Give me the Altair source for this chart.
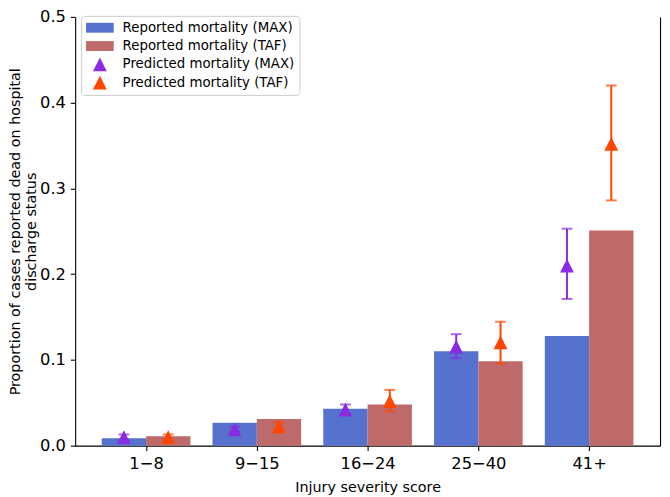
import json
import altair as alt
import pandas as pd

categories = ["1−8", "9−15", "16−24", "25−40", "41+"]
series_names = [
    "Reported mortality (MAX)",
    "Reported mortality (TAF)",
    "Predicted mortality (MAX)",
    "Predicted mortality (TAF)",
]
reported_max = [0.0087, 0.0267, 0.043, 0.110, 0.128]
reported_taf = [0.011, 0.031, 0.048, 0.0985, 0.251]
predicted_max = [0.010, 0.019, 0.042, 0.1155, 0.210]
predicted_max_lo = [0.007, 0.016, 0.037, 0.102, 0.171]
predicted_max_hi = [0.013, 0.022, 0.048, 0.130, 0.253]
predicted_taf = [0.010, 0.0225, 0.052, 0.1205, 0.352]
predicted_taf_lo = [0.007, 0.018, 0.040, 0.0957, 0.286]
predicted_taf_hi = [0.013, 0.027, 0.065, 0.1445, 0.420]

colors = ["#5573CE", "#BE6A6A", "#8A2BE2", "#FF4500"]
RECT = "M-2,-0.714L2,-0.714L2,0.714L-2,0.714Z"
TRI = "M0,-1L-1,1L1,1Z"
FONT = "DejaVu Sans"

bar_rows = []
pt_rows = []
for i, c in enumerate(categories):
    bar_rows.append(dict(cat=c, series=series_names[0], value=reported_max[i], base=0.0, x0=i - 0.4, x1=i))
    bar_rows.append(dict(cat=c, series=series_names[1], value=reported_taf[i], base=0.0, x0=i, x1=i + 0.4))
    pt_rows.append(dict(cat=c, series=series_names[2], value=predicted_max[i],
                        lo=predicted_max_lo[i], hi=predicted_max_hi[i], xc=i - 0.2))
    pt_rows.append(dict(cat=c, series=series_names[3], value=predicted_taf[i],
                        lo=predicted_taf_lo[i], hi=predicted_taf_hi[i], xc=i + 0.2))
bar_df = pd.DataFrame(bar_rows)
pt_df = pd.DataFrame(pt_rows)

xscale = alt.Scale(domain=[-0.64, 4.64], nice=False, zero=False)
yscale = alt.Scale(domain=[0, 0.5], nice=False)
label_expr = json.dumps(categories, ensure_ascii=False) + "[datum.value]"
xaxis = alt.Axis(values=[0, 1, 2, 3, 4], labelExpr=label_expr,
                 title="Injury severity score", grid=False)

color = alt.Color("series:N", title=None,
                  scale=alt.Scale(domain=series_names, range=colors),
                  legend=alt.Legend(orient="none", legendX=6, legendY=-1,
                                    symbolSize=196, symbolStrokeWidth=0,
                                    symbolOffset=7,
                                    labelFont=FONT, labelFontSize=13.5, labelColor="black",
                                    labelLimit=400,
                                    strokeColor="#cccccc", fillColor="white",
                                    cornerRadius=3, padding=5, rowPadding=4.5,
                                    labelOffset=16, symbolOpacity=1))

bars = alt.Chart(bar_df).mark_bar(opacity=1).encode(
    x=alt.X("x0:Q", scale=xscale, axis=xaxis),
    x2="x1:Q",
    y=alt.Y("value:Q", scale=yscale,
            axis=alt.Axis(values=[0, 0.1, 0.2, 0.3, 0.4, 0.5], format=".1f", grid=False,
                          title=["Proportion of cases reported dead on hospital",
                                 "discharge status"],
                          titleLineHeight=16, titlePadding=1)),
    y2="base:Q",
    color=color,
)

rules = alt.Chart(pt_df).mark_rule(strokeWidth=2).encode(
    x=alt.X("xc:Q", scale=xscale, axis=xaxis),
    y=alt.Y("lo:Q", scale=yscale, axis=None),
    y2="hi:Q",
    color=alt.Color("series:N", legend=None),
)
caps_lo = alt.Chart(pt_df).mark_tick(orient="horizontal", size=11, thickness=2).encode(
    x=alt.X("xc:Q", scale=xscale, axis=xaxis),
    y=alt.Y("lo:Q", scale=yscale, axis=None),
    color=alt.Color("series:N", legend=None),
)
caps_hi = alt.Chart(pt_df).mark_tick(orient="horizontal", size=11, thickness=2).encode(
    x=alt.X("xc:Q", scale=xscale, axis=xaxis),
    y=alt.Y("hi:Q", scale=yscale, axis=None),
    color=alt.Color("series:N", legend=None),
)
points = alt.Chart(pt_df).mark_point(filled=True, opacity=1, size=196, strokeWidth=0).encode(
    x=alt.X("xc:Q", scale=xscale, axis=xaxis),
    y=alt.Y("value:Q", scale=yscale,
            axis=alt.Axis(orient="right", labels=False, ticks=False, title=None, grid=False)),
    color=color,
    shape=alt.Shape("series:N", title=None,
                    scale=alt.Scale(domain=series_names, range=[RECT, RECT, TRI, TRI])),
)

chart = alt.layer(bars, rules, caps_lo, caps_hi, points).resolve_axis(
    y="independent"
).properties(
    width=592, height=434,
    padding={"left": 68, "top": 6, "right": 2, "bottom": 49},
    autosize=alt.AutoSizeParams(type="none"),
).configure_view(stroke=None).configure_axis(
    labelFont=FONT, labelFontSize=16.5, labelColor="black",
    titleFont=FONT, titleFontSize=14.5, titleFontWeight="normal", titleColor="black",
    domainColor="black", domainWidth=1.1, tickColor="black", tickWidth=1.1,
    tickSize=4.9, labelPadding=4.9,
).configure_axisX(titlePadding=9)

chart.save("out.html", embed_options={"renderer": "svg", "actions": False})
